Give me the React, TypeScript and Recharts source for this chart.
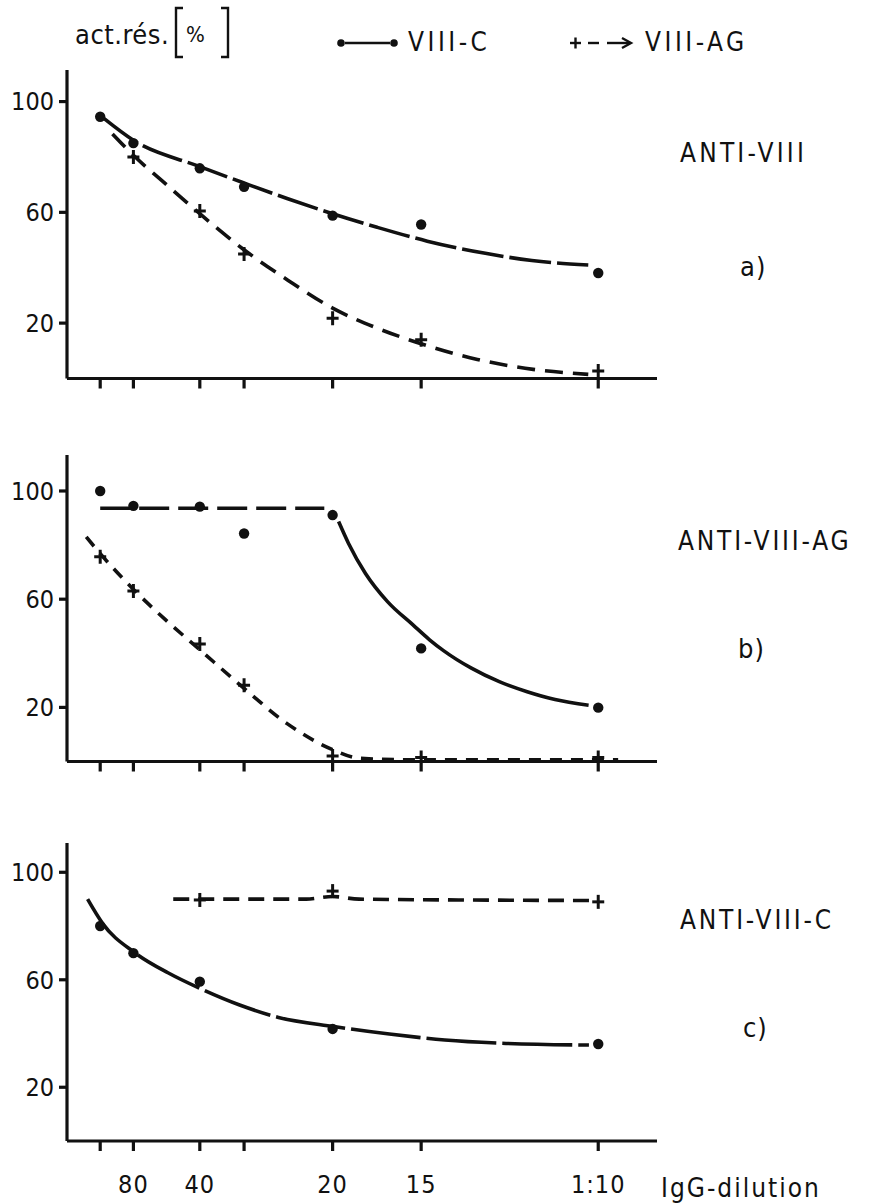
import React from "react";
import {
  ComposedChart,
  Line,
  Scatter,
  XAxis,
  YAxis,
} from "recharts";

// IgG dilutions (1:160 ... 1:10); the x axis is linear in concentration, i.e. 160 / dilution
const DILUTIONS = [160, 80, 40, 30, 20, 15, 10];
const CONC = DILUTIONS.map((d) => 160 / d);
const X_LABELS = ["", "80", "40", "", "20", "15", "1:10"];
const Y_TICKS = [20, 60, 100];

// a) ANTI-VIII
const aCDots = [94.5, 85, 75.9, 69.2, 58.8, 55.6, 38.1];
const aAgDots = [null, 80, 60.5, 45, 21.8, 14, 2.7];
const aCCurveX = [1.1, 2, 4, 5.33, 6.65, 8, 9.34, 10.85, 12.6, 14, 15.7];
const aCCurveY = [94, 86, 76.5, 70.6, 64.9, 59.5, 54.6, 49.6, 45.2, 42.6, 41];
const aAgCurveX = [1.37, 2, 2.98, 4, 5.33, 6.65, 8, 9.34, 10.76, 12.36, 14.04, 15.7];
const aAgCurveY = [88.3, 80.6, 70.2, 59.5, 46.5, 35.5, 25.4, 18.2, 12.2, 6.9, 3.3, 1.5];

// b) ANTI-VIII-AG
const bCDots = [100, 94.5, 94.2, 84.3, 91.1, 41.8, 19.9];
const bAgDots = [75.7, 63, 43.4, 28.2, 2, 1.5, 1.5];
const bCFlatX = [1.0, 7.75];
const bCFlatY = [93.6, 93.6];
const bCCurveX = [8.18, 8.48, 8.99, 9.66, 10.42, 10.92, 11.34, 12.18, 13.02, 13.86, 14.7, 15.71];
const bCCurveY = [88.7, 80.6, 69.5, 59, 50.5, 45, 41, 34.5, 29.5, 25.8, 22.9, 20.8];
const bAgCurveX = [0.58, 0.92, 2.01, 2.93, 4.03, 5.29, 6.63, 7.98, 8.82, 10.5, 16.6];
const bAgCurveY = [83, 78, 63.5, 52.8, 41, 27.5, 14, 4.5, 1.2, 0.6, 0.6];

// c) ANTI-VIII-C
const cCDots = [80, 69.9, 59.3, null, 41.7, null, 36.1];
const cAgDots = [null, null, 89.7, null, 93, null, 89];
const cCCurveX = [0.62, 1.07, 2.04, 3.04, 4, 5.2, 6.37, 8.04, 9.71, 11.38, 13.05, 15.72];
const cCCurveY = [90, 81, 70.1, 62.6, 56.8, 50.6, 46, 42.6, 39.8, 37.6, 36.4, 35.7];
const cAgCurveX = [3.2, 7.2, 8, 8.8, 16];
const cAgCurveY = [90, 90, 91, 90, 89.5];

const INK = "#111";
const FONT = "'DejaVu Sans Condensed', 'Liberation Sans Narrow', 'DejaVu Sans', sans-serif";
const LINE_W = 3.6;

const toPoints = (xs: number[], ys: (number | null)[]) =>
  xs.map((x, i) => ({ x, y: ys[i] })).filter((p) => p.y !== null);

const DotShape = (props: any) => <circle cx={props.cx} cy={props.cy} r={5.2} fill={INK} />;

const PlusShape = (props: any) => (
  <g stroke={INK} strokeWidth={3}>
    <line x1={props.cx - 6} y1={props.cy} x2={props.cx + 6} y2={props.cy} />
    <line x1={props.cx} y1={props.cy - 7} x2={props.cx} y2={props.cy + 7} />
  </g>
);

type Curve = { xs: number[]; ys: number[]; dash?: string };

function Panel({
  top,
  plotH,
  yMax,
  cDots,
  agDots,
  cCurves,
  agCurves,
  labels,
}: {
  top: number;
  plotH: number;
  yMax: number;
  cDots: (number | null)[];
  agDots: (number | null)[];
  cCurves: Curve[];
  agCurves: Curve[];
  labels: boolean;
}) {
  const mTop = 10;
  const axisH = 70;
  return (
    <div style={{ position: "absolute", left: 0, top: top - mTop }}>
      <ComposedChart
        width={873}
        height={mTop + plotH + axisH}
        margin={{ top: mTop, right: 216, bottom: 0, left: 0 }}
      >
        <XAxis
          type="number"
          dataKey="x"
          domain={[0, 17.77]}
          ticks={CONC}
          allowDataOverflow
          height={axisH}
          stroke={INK}
          strokeWidth={3.2}
          tickSize={10}
          tickMargin={24}
          tickFormatter={(v: number) => (labels ? X_LABELS[CONC.indexOf(v)] ?? "" : "")}
          tick={{ fill: INK, fontSize: 25, fontFamily: FONT, letterSpacing: 1 }}
        />
        <YAxis
          type="number"
          dataKey="y"
          domain={[0, yMax]}
          ticks={Y_TICKS}
          allowDataOverflow
          width={67}
          stroke={INK}
          strokeWidth={3.2}
          tickSize={8}
          tickMargin={5}
          tick={{ fill: INK, fontSize: 25, fontFamily: FONT }}
        />
        {cCurves.map((c, i) => (
          <Line
            key={"c" + i}
            data={toPoints(c.xs, c.ys)}
            dataKey="y"
            type="monotone"
            stroke={INK}
            strokeWidth={LINE_W}
            strokeDasharray={c.dash}
            dot={false}
            activeDot={false}
            isAnimationActive={false}
          />
        ))}
        {agCurves.map((c, i) => (
          <Line
            key={"ag" + i}
            data={toPoints(c.xs, c.ys)}
            dataKey="y"
            type="monotone"
            stroke={INK}
            strokeWidth={LINE_W}
            strokeDasharray={c.dash ?? "14 10"}
            dot={false}
            activeDot={false}
            isAnimationActive={false}
          />
        ))}
        <Scatter data={toPoints(CONC, cDots)} dataKey="y" shape={DotShape} isAnimationActive={false} />
        <Scatter data={toPoints(CONC, agDots)} dataKey="y" shape={PlusShape} isAnimationActive={false} />
      </ComposedChart>
    </div>
  );
}

const textStyle = (left: number, top: number, size = 26, spacing = 0): React.CSSProperties => ({
  position: "absolute",
  left,
  top,
  fontFamily: FONT,
  fontSize: size,
  color: INK,
  lineHeight: 1,
  letterSpacing: spacing,
  whiteSpace: "nowrap",
});

export default function App() {
  return (
    <div style={{ position: "absolute", left: 0, top: 0, width: 873, height: 1203, background: "#fff" }}>
      {/* header legend */}
      <div style={textStyle(75, 21, 27, 0.5)}>act.rés.</div>
      <svg style={{ position: "absolute", left: 172, top: 5 }} width={60} height={56}>
        <path d="M11 3 L4 3 L4 52 L11 52" fill="none" stroke={INK} strokeWidth={2.4} />
        <path d="M49 3 L56 3 L56 52 L49 52" fill="none" stroke={INK} strokeWidth={2.4} />
      </svg>
      <div style={textStyle(186, 24, 22)}>%</div>
      <svg style={{ position: "absolute", left: 334, top: 34 }} width={68} height={18}>
        <circle cx={7} cy={9} r={3.8} fill={INK} />
        <line x1={11} y1={9} x2={56} y2={9} stroke={INK} strokeWidth={2.6} />
        <circle cx={60} cy={9} r={3.8} fill={INK} />
      </svg>
      <div style={textStyle(408, 29, 26, 3.5)}>VIII-C</div>
      <svg style={{ position: "absolute", left: 568, top: 34 }} width={68} height={18}>
        <line x1={2} y1={9} x2={13} y2={9} stroke={INK} strokeWidth={2.4} />
        <line x1={7.5} y1={3.5} x2={7.5} y2={14.5} stroke={INK} strokeWidth={2.4} />
        <line x1={20} y1={9} x2={31} y2={9} stroke={INK} strokeWidth={2.4} />
        <line x1={39} y1={9} x2={62} y2={9} stroke={INK} strokeWidth={2.4} />
        <path d="M54 4 L63 9 L54 14" fill="none" stroke={INK} strokeWidth={2.4} />
      </svg>
      <div style={textStyle(645, 29, 26, 3.5)}>VIII-AG</div>

      <Panel
        top={70}
        plotH={308.5}
        yMax={111.4}
        cDots={aCDots}
        agDots={aAgDots}
        cCurves={[{ xs: aCCurveX, ys: aCCurveY, dash: "42 6" }]}
        agCurves={[{ xs: aAgCurveX, ys: aAgCurveY, dash: "18 10" }]}
        labels={false}
      />
      <div style={textStyle(680, 140, 26, 3.2)}>ANTI-VIII</div>
      <div style={textStyle(740, 253, 27, 1)}>a)</div>

      <Panel
        top={455}
        plotH={306.5}
        yMax={113.3}
        cDots={bCDots}
        agDots={bAgDots}
        cCurves={[
          { xs: bCFlatX, ys: bCFlatY, dash: "30 9" },
          { xs: bCCurveX, ys: bCCurveY },
        ]}
        agCurves={[{ xs: bAgCurveX, ys: bAgCurveY, dash: "12 9" }]}
        labels={false}
      />
      <div style={textStyle(678, 528, 26, 2.8)}>ANTI-VIII-AG</div>
      <div style={textStyle(738, 635, 27, 1)}>b)</div>

      <Panel
        top={843}
        plotH={298}
        yMax={110.9}
        cDots={cCDots}
        agDots={cAgDots}
        cCurves={[{ xs: cCCurveX, ys: cCCurveY, dash: "70 6" }]}
        agCurves={[{ xs: cAgCurveX, ys: cAgCurveY, dash: "16 9" }]}
        labels={true}
      />
      <div style={textStyle(680, 907, 26, 2.8)}>ANTI-VIII-C</div>
      <div style={textStyle(743, 1014, 27, 1)}>c)</div>
      <div style={textStyle(661, 1175, 26, 2)}>IgG-dilution</div>
    </div>
  );
}
